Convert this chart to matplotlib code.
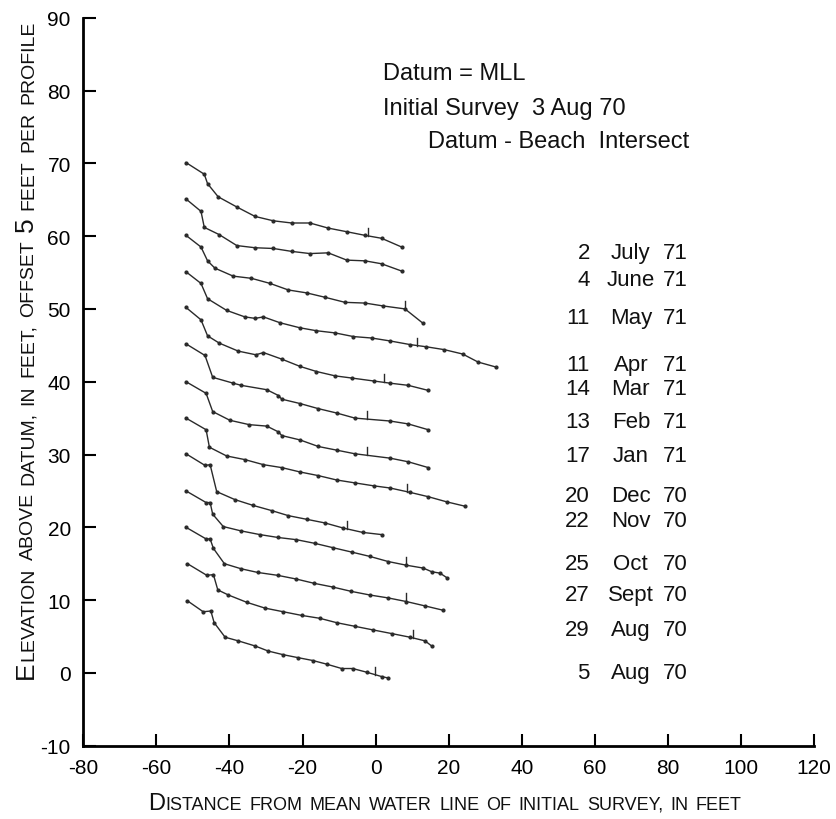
import numpy as np
import matplotlib
matplotlib.use('Agg')
import matplotlib.pyplot as plt

plt.rcParams['font.family'] = ['Liberation Sans', 'DejaVu Sans']
plt.rcParams['axes.unicode_minus'] = False

# survey dates, top profile first
days = ['2', '4', '11', '11', '14', '13', '17', '20', '22', '25', '27', '29', '5']
months = ['July', 'June', 'May', 'Apr', 'Mar', 'Feb', 'Jan', 'Dec', 'Nov', 'Oct', 'Sept', 'Aug', 'Aug']
years = ['71', '71', '71', '71', '71', '71', '71', '70', '70', '70', '70', '70', '70']
label_y = [57.7, 54.0, 48.8, 42.4, 39.0, 34.6, 29.8, 24.3, 20.9, 15.0, 10.8, 6.0, 0.0]

# profiles: distance (ft) and elevation (ft, incl. 5 ft offset per profile)
x_jul71 = [-51.9, -46.9, -46.0, -43.1, -38.0, -33.0, -28.0, -23.0, -18.0, -13.0, -7.9, -2.9, 1.6, 7.1]
y_jul71 = [70.1, 68.5, 67.2, 65.4, 64.0, 62.7, 62.1, 61.8, 61.8, 61.1, 60.6, 60.1, 59.7, 58.5]
x_jun71 = [-51.9, -47.8, -46.9, -42.8, -38.0, -33.0, -28.0, -23.0, -18.0, -13.0, -7.9, -2.9, 1.6, 7.1]
y_jun71 = [65.1, 63.4, 61.2, 60.2, 58.7, 58.4, 58.3, 57.9, 57.6, 57.7, 56.7, 56.6, 56.2, 55.2]
x_may71 = [-51.9, -47.8, -46.0, -44.0, -39.0, -34.0, -28.9, -23.9, -18.9, -13.9, -8.4, -2.9, 2.1, 8.0, 13.0]
y_may71 = [60.1, 58.5, 56.6, 55.6, 54.5, 54.2, 53.5, 52.6, 52.2, 51.6, 50.9, 50.8, 50.4, 50.0, 48.0]
x_apr71 = [-51.9, -47.8, -46.0, -40.8, -35.8, -33.0, -30.7, -26.2, -20.7, -16.2, -11.1, -6.1, -1.1, 3.9,
           9.4, 13.8, 18.8, 23.8, 28.0, 33.0]
y_apr71 = [55.1, 53.5, 51.4, 49.8, 48.9, 48.7, 48.9, 48.1, 47.4, 47.0, 46.7, 46.2, 46.0, 45.6,
           45.1, 44.8, 44.4, 43.8, 42.7, 42.0]
x_mar71 = [-51.9, -47.8, -46.0, -42.8, -37.6, -32.8, -30.7, -25.7, -20.7, -16.2, -11.1, -6.5, -0.6, 3.9, 8.9, 14.4]
y_mar71 = [50.2, 48.5, 46.3, 45.3, 44.2, 43.7, 44.0, 43.1, 42.1, 41.4, 40.8, 40.5, 40.1, 39.8, 39.5, 38.8]
x_feb71 = [-51.9, -46.7, -44.6, -39.0, -36.8, -29.8, -26.6, -25.7, -20.7, -15.7, -10.7, -5.7, 3.9, 8.9, 14.4]
y_feb71 = [45.2, 43.6, 40.6, 39.8, 39.5, 38.9, 38.1, 37.6, 37.0, 36.3, 35.7, 35.0, 34.6, 34.2, 33.4]
x_jan71 = [-51.9, -46.4, -44.6, -39.9, -34.6, -29.8, -26.6, -25.7, -20.7, -15.7, -10.7, -5.7, 3.9, 8.9, 14.4]
y_jan71 = [40.0, 38.4, 35.9, 34.7, 34.1, 33.9, 33.1, 32.6, 32.0, 31.1, 30.6, 30.1, 29.5, 29.0, 28.2]
x_dec70 = [-51.9, -46.4, -45.5, -40.8, -35.8, -30.7, -25.7, -20.7, -15.7, -10.7, -5.7, -0.6, 3.9, 9.4,
           14.4, 19.4, 24.4]
y_dec70 = [35.0, 33.4, 31.0, 29.8, 29.3, 28.6, 28.2, 27.6, 27.1, 26.5, 26.1, 25.7, 25.4, 24.8,
           24.2, 23.5, 22.9]
x_nov70 = [-51.9, -46.7, -45.3, -43.5, -38.5, -33.5, -28.5, -23.9, -18.9, -13.9, -8.9, -3.6, 1.6]
y_nov70 = [30.1, 28.5, 28.6, 24.9, 23.8, 23.0, 22.3, 21.6, 21.1, 20.6, 19.9, 19.3, 19.0]
x_oct70 = [-51.9, -46.4, -45.3, -44.6, -41.7, -36.8, -31.7, -26.7, -21.7, -16.7, -11.7, -6.6, -1.6, 3.4,
           8.3, 13.0, 15.3, 17.6, 19.4]
y_oct70 = [25.0, 23.4, 23.4, 21.8, 20.1, 19.5, 19.0, 18.6, 18.3, 17.8, 17.2, 16.6, 16.0, 15.3,
           14.8, 14.4, 13.9, 13.7, 13.1]
x_sep70 = [-51.9, -46.4, -45.3, -44.4, -41.4, -36.8, -32.3, -26.8, -21.8, -16.8, -11.8, -6.7, -1.6, 3.4,
           8.4, 13.5, 18.5]
y_sep70 = [20.0, 18.4, 18.4, 17.1, 15.0, 14.3, 13.8, 13.4, 12.9, 12.3, 11.8, 11.2, 10.7, 10.3,
           9.8, 9.2, 8.6]
x_aug29 = [-51.5, -46.2, -44.4, -43.2, -40.3, -35.3, -30.3, -25.3, -20.3, -15.3, -10.7, -5.7, -0.7, 4.4,
           9.4, 13.5, 15.3]
y_aug29 = [15.0, 13.4, 13.5, 11.4, 10.7, 9.7, 8.9, 8.4, 7.9, 7.5, 6.9, 6.4, 5.9, 5.4,
           4.9, 4.4, 3.7]
x_aug5 = [-51.5, -47.2, -45.1, -44.2, -41.2, -37.6, -33.0, -29.4, -25.3, -21.3, -17.2, -13.4, -9.3, -6.3,
          -2.5, 1.6, 3.4]
y_aug5 = [9.9, 8.4, 8.5, 6.9, 4.9, 4.4, 3.7, 3.0, 2.5, 2.1, 1.7, 1.2, 0.6, 0.6,
          0.1, -0.5, -0.7]

# datum-beach intersect per profile (None = not marked)
intersect_x = [-2.0, None, 8.0, 11.4, 2.4, -2.5, -2.5, 8.5, -7.9, 8.3, 8.3, 10.1, -0.2]

profiles = [(x_jul71, y_jul71), (x_jun71, y_jun71), (x_may71, y_may71), (x_apr71, y_apr71),
            (x_mar71, y_mar71), (x_feb71, y_feb71), (x_jan71, y_jan71), (x_dec70, y_dec70),
            (x_nov70, y_nov70), (x_oct70, y_oct70), (x_sep70, y_sep70), (x_aug29, y_aug29),
            (x_aug5, y_aug5)]

W, H = 837, 820
fig = plt.figure(figsize=(W / 100, H / 100), dpi=100)
ax = fig.add_axes([83.3 / W, 1 - 746.7 / H, (814.3 - 83.3) / W, (746.7 - 18.7) / H])

ink = '#2a2a2a'
for (xs, ys), xi in zip(profiles, intersect_x):
    ax.plot(xs, ys, color=ink, lw=1.0, marker='o', ms=2.0)
    if xi is not None:
        yi = np.interp(xi, xs, ys)
        ax.plot([xi, xi], [yi, yi + 1.1], color=ink, lw=1.0)

for d, m, yr, yy in zip(days, months, years, label_y):
    ax.text(58.6, yy, d, ha='right', va='center', fontsize=16, color='#111111')
    ax.text(69.8, yy, m, ha='center', va='center', fontsize=16, color='#111111')
    ax.text(78.6, yy, yr, ha='left', va='center', fontsize=16, color='#111111')

ax.text(2.1, 82.4, 'Datum = MLL', ha='left', va='center', fontsize=17, color='#111111')
ax.text(2.1, 77.6, 'Initial Survey  3 Aug 70', ha='left', va='center', fontsize=17, color='#111111')
ax.text(14.4, 73.0, 'Datum - Beach  Intersect', ha='left', va='center', fontsize=17, color='#111111')

ax.set_xlim(-80, 120)
ax.set_ylim(-10, 90)
ax.set_xticks(np.arange(-80, 121, 20))
ax.set_yticks(np.arange(-10, 91, 10))
for s in ['top', 'right']:
    ax.spines[s].set_visible(False)
for s in ['left', 'bottom']:
    ax.spines[s].set_linewidth(2.0)
ax.tick_params(direction='in', length=9, width=1.5, labelsize=15, pad=9)


def caps_label(segments, x0, y0, vertical):
    # lay out pieces of a small-caps label along a line, centred on (x0, y0) in pixels
    r = fig.canvas.get_renderer()
    rot = 90 if vertical else 0
    items = []
    total = 0
    for s, fs in segments:
        if s == ' ':
            w = fs * 0.4 * fig.dpi / 72
            items.append((None, w))
        else:
            t = fig.text(0, 0, s, fontsize=fs, rotation=rot, rotation_mode='anchor',
                         ha='left', va='baseline', color='#111111',
                         family=['Liberation Sans Narrow', 'Liberation Sans'])
            bb = t.get_window_extent(r)
            w = bb.height if vertical else bb.width
            items.append((t, w))
        total += w
    pos = -total / 2
    inv = fig.transFigure.inverted()
    for t, w in items:
        if t is not None:
            p = (x0, y0 + pos) if vertical else (x0 + pos, y0)
            t.set_position(inv.transform(p))
        pos += w


ylab = [('E', 19), ('LEVATION', 14), (' ', 14), ('ABOVE', 14), (' ', 14),
        ('DATUM,', 14), (' ', 14), ('IN', 14), (' ', 14), ('FEET,', 14), (' ', 14),
        ('OFFSET', 14), (' ', 14), ('5', 19), (' ', 14), ('FEET', 14), (' ', 14),
        ('PER', 14), (' ', 14), ('PROFILE', 14)]
xlab = [('D', 17), ('ISTANCE', 13), (' ', 13), ('FROM', 13), (' ', 13), ('MEAN', 13),
        (' ', 13), ('WATER', 13), (' ', 13), ('LINE', 13), (' ', 13), ('OF', 13),
        (' ', 13), ('INITIAL', 13), (' ', 13), ('SURVEY,', 13), (' ', 13), ('IN', 13),
        (' ', 13), ('FEET', 13)]
fig.canvas.draw()
caps_label(ylab, 33, H - 350, True)
caps_label(xlab, 445, 10, False)

fig.savefig('out.png', dpi=100)
